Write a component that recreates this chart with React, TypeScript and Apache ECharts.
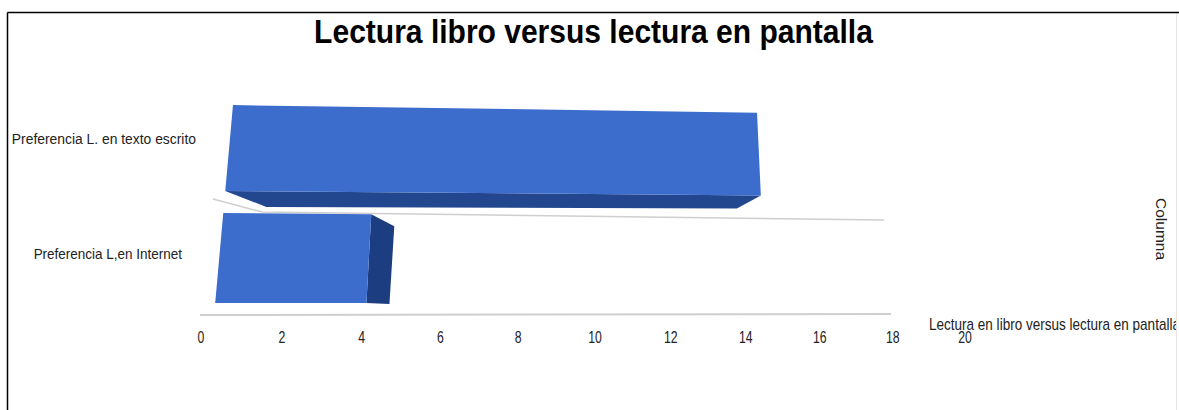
import React, { useEffect, useRef } from "react";
import * as echarts from "echarts";

const chartTitle = "Lectura libro versus lectura en pantalla";
const categories = ["Preferencia L. en texto escrito", "Preferencia L,en Internet"];
const seriesValues = [14, 4];
const tickValues = [0, 2, 4, 6, 8, 10, 12, 14, 16, 18, 20];
const xName = "Lectura en libro versus lectura en pantalla";
const yName = "Columna";

const FRONT = "#3d6dcc";
const BOTTOM = "#22478f";
const SIDE = "#1c3d7f";
const GRID = "#cfcfcf";
const FONT = "'Liberation Sans', Arial, sans-serif";

// perspective used by the drawn bars: v = value, y = pixel row from the category scale
function project(v: number, y: number, t: number): [number, number] {
  const x0 = 233 - 0.09 * (y - 105);
  const k = (36.83 + 0.043 * v) * (1 + 0.022 * t);
  const x = x0 + v * k;
  const slope = (0.0145 * (315 - y)) / 210;
  return [x, y + slope * (x - x0)];
}

// perspective of the value-axis labels along the axis
function tickWarp(px: number, left: number, width: number) {
  const u = (px - left) / width;
  const a = 1.065;
  return left + (width * a * u) / (1 + (a - 1) * u);
}

export default function App() {
  const ref = useRef<HTMLDivElement>(null);
  useEffect(() => {
    document.body.style.margin = "0";
    document.body.style.background = "#fff";
    const chart = echarts.init(ref.current!, undefined, { renderer: "svg" });
    const option: any = {
      animation: false,
      backgroundColor: "#fff",
      grid: { left: 201, top: 93, width: 764, height: 220 },
      xAxis: {
        type: "value", min: 0, max: 20, interval: 2,
        axisLine: { show: false }, axisTick: { show: false }, splitLine: { show: false }, axisLabel: { show: false },
      },
      yAxis: {
        type: "category", inverse: true, data: categories,
        axisLine: { show: false }, axisTick: { show: false }, splitLine: { show: false }, axisLabel: { show: false },
      },
      graphic: [
        { type: "polyline", z: 0, shape: { points: [[200, 315], [891, 314]] }, style: { stroke: GRID, lineWidth: 2, fill: "none" } },
        { type: "polyline", z: 0, shape: { points: [[213, 199], [262, 212], [884, 220]] }, style: { stroke: GRID, lineWidth: 1.5, fill: "none" } },
        { type: "text", z: 5, x: 593.5, y: 31, scaleX: 0.91, style: { text: chartTitle, align: "center", verticalAlign: "middle", font: "bold 33px " + FONT, fill: "#000" } },
        { type: "text", z: 5, x: 929, y: 325, scaleX: 0.846, style: { text: xName, verticalAlign: "middle", font: "16px " + FONT, fill: "#222" } },
        { type: "text", z: 5, x: 1169, y: 198, rotation: -Math.PI / 2, style: { text: yName, font: "15.5px " + FONT, fill: "#222" } },
        { type: "rect", z: 6, shape: { x: 1176, y: 0, width: 3, height: 410 }, style: { fill: "#fff" } },
        { type: "line", z: 7, shape: { x1: 1176.5, y1: 13, x2: 1176.5, y2: 410 }, style: { stroke: "#e6e6e6", lineWidth: 1 } },
        { type: "line", z: 7, shape: { x1: 7.5, y1: 12.5, x2: 1179, y2: 12.5 }, style: { stroke: "#000", lineWidth: 1.5 } },
        { type: "line", z: 7, shape: { x1: 7.5, y1: 12.5, x2: 7.5, y2: 410 }, style: { stroke: "#000", lineWidth: 1.5 } },
      ],
      series: [
        {
          type: "custom",
          coordinateSystem: "cartesian2d",
          encode: { x: 0, y: 1 },
          data: seriesValues.map((v, i) => [v, i]),
          renderItem: (_p: any, api: any) => {
            const v = api.value(0);
            const i = api.value(1);
            const yc = api.coord([0, i])[1];
            const h = api.size([0, 1])[1] * 0.78 + 0.036 * (yc - 148);
            const top = yc - h / 2;
            const bot = yc + h / 2;
            const TL = project(0, top, 0);
            const TR = project(v, top, 0);
            const BL = project(0, bot, 1);
            const BR = project(v, bot, 1);
            const children: any[] = [];
            if (i === 0) {
              children.push({
                type: "polygon",
                shape: { points: [BL, [BL[0] + 41, BL[1] + 16], [BR[0] - 24, BR[1] + 13], BR] },
                style: { fill: BOTTOM },
              });
            } else {
              children.push({
                type: "polygon",
                shape: { points: [TR, [TR[0] + 23, TR[1] + 12], [BR[0] + 23, BR[1] + 1], BR] },
                style: { fill: SIDE },
              });
            }
            children.push({ type: "polygon", shape: { points: [TL, TR, BR, BL] }, style: { fill: FRONT } });
            return { type: "group", children };
          },
          z: 2,
        },
        {
          type: "custom",
          coordinateSystem: "cartesian2d",
          encode: { y: 0 },
          clip: false,
          data: categories.map((_c, i) => [i]),
          renderItem: (_p: any, api: any) => {
            const i = api.value(0);
            const yc = api.coord([0, i])[1];
            return {
              type: "text",
              x: 196 - (yc - 148) * 0.127,
              y: yc - 9 + (yc - 148) * 0.045,
              scaleX: i === 0 ? 0.925 : 0.9,
              style: { text: categories[i], align: "right", verticalAlign: "middle", font: "15px " + FONT, fill: "#222" },
            };
          },
          z: 3,
        },
        {
          type: "custom",
          coordinateSystem: "cartesian2d",
          encode: { x: 0 },
          clip: false,
          data: tickValues.map((v) => [v]),
          renderItem: (p: any, api: any) => {
            const v = api.value(0);
            const px = api.coord([v, 0])[0];
            return {
              type: "text",
              x: tickWarp(px, p.coordSys.x, p.coordSys.width),
              y: 337,
              scaleX: 0.72,
              style: { text: String(v), align: "center", verticalAlign: "middle", font: "17px " + FONT, fill: "#222" },
            };
          },
          z: 4,
        },
      ],
    };
    chart.setOption(option);
    return () => chart.dispose();
  }, []);
  return <div ref={ref} style={{ width: 1179, height: 410 }} />;
}
